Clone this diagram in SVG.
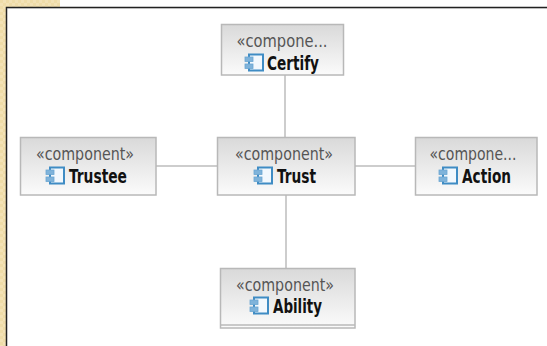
<svg xmlns="http://www.w3.org/2000/svg" width="547" height="346" viewBox="0 0 547 346">
<defs>
<linearGradient id="g" x1="0" y1="0" x2="0" y2="1"><stop offset="0" stop-color="#d9d9d9"/><stop offset="1" stop-color="#fbfbfb"/></linearGradient>
<pattern id="tan" width="6" height="6" patternUnits="userSpaceOnUse"><rect width="6" height="6" fill="#f3e2b6"/><rect width="3" height="3" fill="#efdca8"/><rect x="3" y="3" width="3" height="3" fill="#efdca8"/></pattern>
<g id="icon">
<rect x="4" y="0.500" width="14" height="16" fill="#f2f8fd" stroke="#3f8cc4" stroke-width="2"/>
<rect x="0" y="3" width="8" height="4.500" fill="#7fb3da" stroke="#6aa6d2" stroke-width="0.800"/>
<rect x="0" y="10" width="8" height="4.500" fill="#7fb3da" stroke="#6aa6d2" stroke-width="0.800"/>
</g>
</defs>
<style>
.box{fill:url(#g);stroke:#b8b8b8;stroke-width:1.500}
.st{font-family:"DejaVu Sans Condensed","DejaVu Sans",sans-serif;font-size:17px;fill:#555;text-anchor:middle}
.nm{font-family:"DejaVu Sans Condensed","DejaVu Sans",sans-serif;font-size:19px;font-weight:700;fill:#111}
.ln{stroke:#bdbdbd;stroke-width:1.500;fill:none}
</style>
<rect width="547" height="346" fill="#fff"/>
<rect x="0" y="0" width="60" height="7" fill="url(#tan)"/>
<rect x="0" y="0" width="6" height="346" fill="url(#tan)"/>
<path d="M6.500 346V7.500H547" fill="none" stroke="#222" stroke-width="1.500"/>
<path d="M8 8.500H547" fill="none" stroke="#bbb" stroke-width="1"/>
<g id="connectors">
<path class="ln" d="M285 75V137"/>
<path class="ln" d="M156 166H217"/>
<path class="ln" d="M355 166H415"/>
<path class="ln" d="M286 195V268"/>
</g>
<g id="certify"><rect class="box" x="221.500" y="24.500" width="122" height="50.500"/><text class="st" x="282" y="46.500" textLength="91" lengthAdjust="spacingAndGlyphs">«compone...</text><use href="#icon" x="245" y="54"/><text class="nm" x="267" y="70" textLength="52" lengthAdjust="spacingAndGlyphs">Certify</text></g>
<g id="trustee"><rect class="box" x="20.500" y="137.500" width="135.500" height="57.500"/><text class="st" x="85" y="159.500" textLength="98" lengthAdjust="spacingAndGlyphs">«component»</text><use href="#icon" x="46" y="167"/><text class="nm" x="69" y="182.500" textLength="58" lengthAdjust="spacingAndGlyphs">Trustee</text></g>
<g id="trust"><rect class="box" x="217.500" y="137.500" width="137.500" height="57.500"/><text class="st" x="284" y="159.500" textLength="98" lengthAdjust="spacingAndGlyphs">«component»</text><use href="#icon" x="254" y="167"/><text class="nm" x="277" y="182.500" textLength="39" lengthAdjust="spacingAndGlyphs">Trust</text></g>
<g id="action"><rect class="box" x="415.500" y="137.500" width="121.500" height="57.500"/><text class="st" x="473" y="159.500" textLength="87" lengthAdjust="spacingAndGlyphs">«compone...</text><use href="#icon" x="439" y="167"/><text class="nm" x="462" y="182.500" textLength="49" lengthAdjust="spacingAndGlyphs">Action</text></g>
<g id="ability"><rect class="box" x="220.500" y="268.500" width="134.500" height="59.500"/><path d="M220.500 325H355" stroke="#b8b8b8" stroke-width="1.500" fill="none"/><text class="st" x="285" y="290.500" textLength="98" lengthAdjust="spacingAndGlyphs">«component»</text><use href="#icon" x="250" y="297"/><text class="nm" x="273" y="313" textLength="49" lengthAdjust="spacingAndGlyphs">Ability</text></g>
</svg>
